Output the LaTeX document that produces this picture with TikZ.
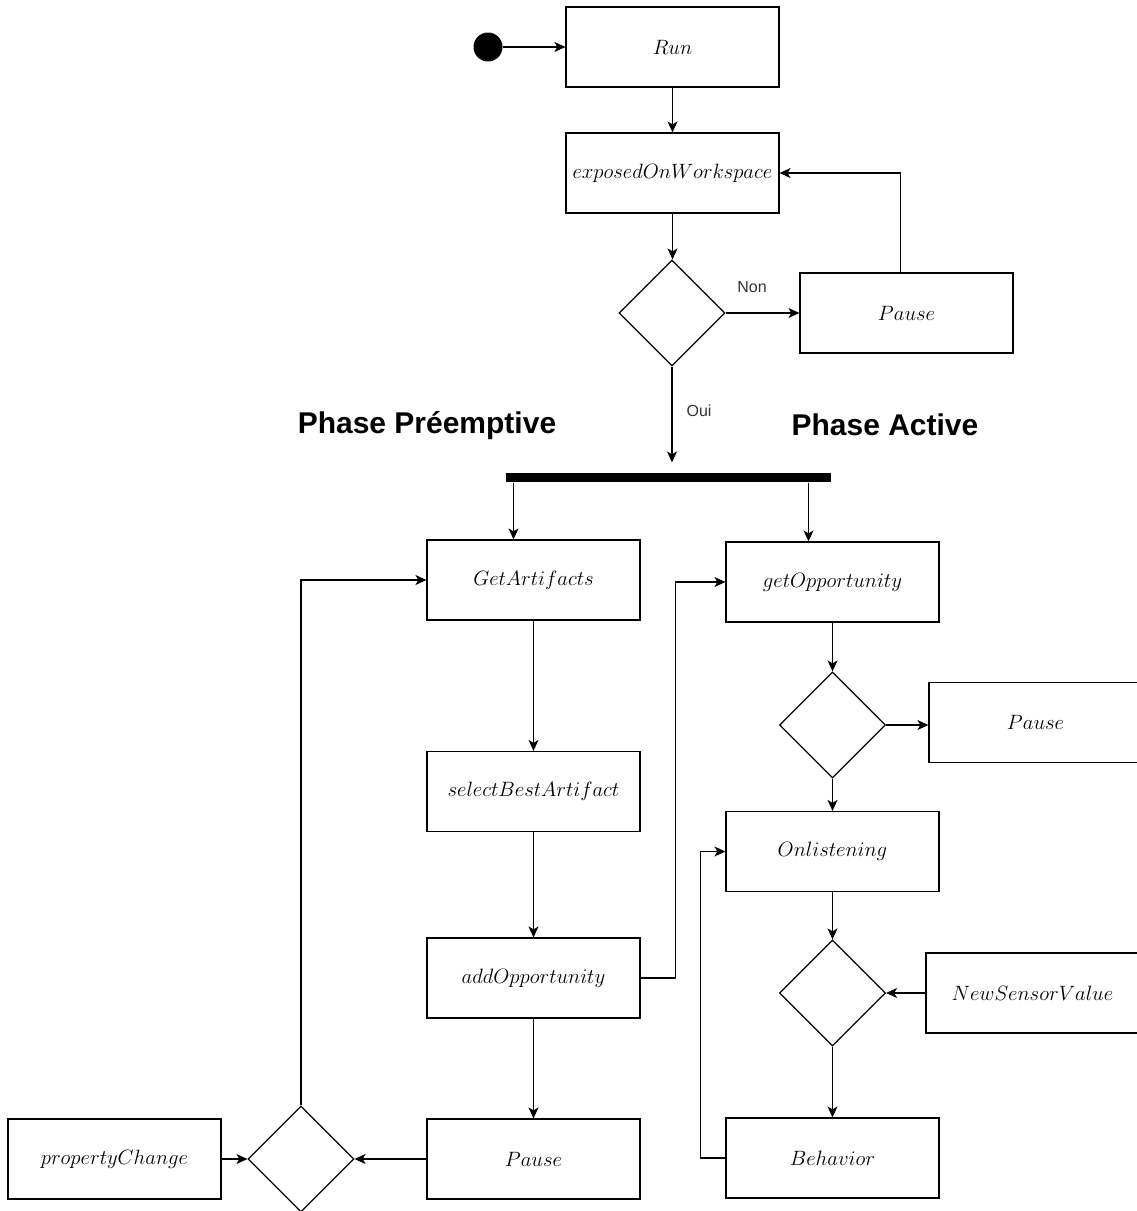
\documentclass[tikz,border=0pt]{standalone}
\usepackage{fontspec}
\newfontfamily\arialf{Liberation Sans}
\usetikzlibrary{shapes.geometric,arrows.meta}
\begin{document}
\begin{tikzpicture}[x=1pt,y=-1pt,line width=1.2pt,
  box/.style={draw,rectangle,minimum width=213pt,minimum height=80pt,inner sep=0pt,font=\fontsize{20}{24}\selectfont},
  dec/.style={draw,diamond,aspect=1,minimum size=106pt,inner sep=0pt},
  arr/.style={-{Stealth[length=11pt,width=10pt,inset=3pt]}},
  lbl/.style={font=\arialf\fontsize{16}{19}\selectfont,text=black!80},
  phase/.style={font=\arialf\bfseries\fontsize{30}{35}\selectfont}]
\useasboundingbox (0,0) rectangle (1137,1211);
\clip (0,0) rectangle (1137,1211);
% nodes
\node[circle,fill=black,minimum size=29pt,inner sep=0pt] (start) at (488,47) {};
\node[box] (run) at (672.5,47) {$Run$};
\node[box] (exp) at (672.5,173) {$exposedOnWorkspace$};
\node[dec] (d1) at (672,313) {};
\node[box] (p1) at (906.5,313) {$Pause$};
\node[lbl] (non) at (752,287) {Non};
\node[lbl] (oui) at (699,411) {Oui};
\node[phase] (pp) at (427,426) {Phase Préemptive};
\node[phase] (pa) at (885,425) {Phase Active};
\node[fill=black,minimum width=325pt,minimum height=9pt,inner sep=0pt] (bar) at (668.5,477.5) {};
\node[box] (ga) at (533.5,580) {$GetArtifacts$};
\node[box] (go) at (832.5,582) {$getOpportunity$};
\node[box] (sb) at (533.5,791.5) {$selectBestArtifact$};
\node[box] (ao) at (533.5,978) {$addOpportunity$};
\node[box] (p3) at (533.5,1159) {$Pause$};
\node[box] (pc) at (114.5,1159) {$propertyChange$};
\node[dec] (d4) at (301,1159) {};
\node[dec] (d2) at (832.5,725) {};
\node[box] (p2) at (1035.5,722.5) {$Pause$};
\node[box] (on) at (832.5,851.5) {$Onlistening$};
\node[dec] (d3) at (832.5,993) {};
\node[box] (nsv) at (1032.5,993) {$NewSensorValue$};
\node[box] (beh) at (832.5,1158) {$Behavior$};
% connectors
\draw[arr] (start) -- (run.west);
\draw[arr] (run.south) -- (exp.north);
\draw[arr] (exp.south) -- (exp.south |- d1.north);
\draw[arr] (d1.east) -- (p1.west);
\draw[arr] ([xshift=-6pt]p1.north) |- (exp.east);
\draw[arr,shorten >=10pt] (d1.south) -- (d1.south |- bar.north);
\draw[arr] ([xshift=-20pt]ga.north |- bar.south) -- ([xshift=-20pt]ga.north);
\draw[arr] ([xshift=-24pt]go.north |- bar.south) -- ([xshift=-24pt]go.north);
\draw[arr] (ga.south) -- (sb.north);
\draw[arr] (sb.south) -- (ao.north);
\draw[arr] (ao.south) -- (p3.north);
\draw[arr] (p3.west) -- (d4.east);
\draw[arr] (pc.east) -- (d4.west);
\draw[arr] (d4.north) |- (ga.west);
\draw[arr] (ao.east) -- ++(35,0) |- (go.west);
\draw[arr] (go.south) -- (d2.north);
\draw[arr] (d2.east) -- (d2.east -| p2.west);
\draw[arr] (d2.south) -- (on.north);
\draw[arr] (on.south) -- (d3.north);
\draw[arr] (nsv.west) -- (d3.east);
\draw[arr] (d3.south) -- (beh.north);
\draw[arr] (beh.west) -- ++(-25,0) |- (on.west);
\end{tikzpicture}
\end{document}
